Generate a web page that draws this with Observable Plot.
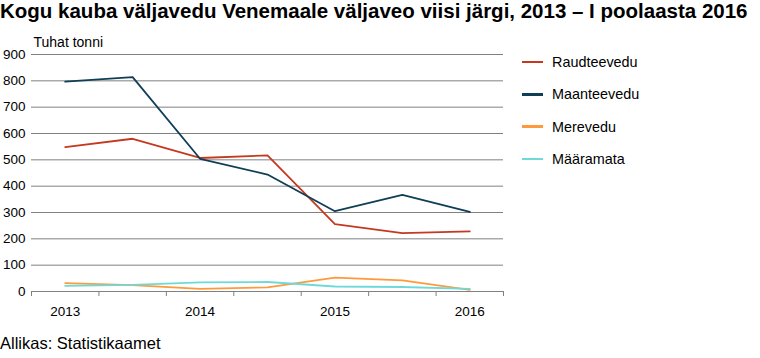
<!DOCTYPE html>
<html>
<head>
<meta charset="utf-8">
<script src="https://cdn.jsdelivr.net/npm/d3@7"></script>
<script src="https://cdn.jsdelivr.net/npm/@observablehq/plot@0.6"></script>
<style>
  body { margin: 0; background: #fff; font-family: "Liberation Sans", Arial, sans-serif; color: #000; }
  #title { font-weight: bold; font-size: 20.5px; line-height: 22px; height: 30px; white-space: nowrap; }
  #row { display: flex; }
  #legend { padding-top: 16px; }
  .item { height: 32.3px; display: flex; align-items: center; font-size: 14.4px; }
  .swatch { display: inline-block; width: 21px; height: 2.5px; margin-left: 12px; margin-right: 9px; }
  #caption { font-size: 16.5px; line-height: 18px; margin-top: 14px; }
</style>
</head>
<body>
<div id="title">Kogu kauba väljavedu Venemaale väljaveo viisi järgi, 2013 – I poolaasta 2016</div>
<div id="row"><div id="chart"></div><div id="legend"></div></div>
<div id="caption">Allikas: Statistikaamet</div>
<script>
const periods = ["2013 I", "2013 II", "2014 I", "2014 II", "2015 I", "2015 II", "2016 I"];
const yearLabels = ["2013", "", "2014", "", "2015", "", "2016"];
const seriesNames = ["Raudteevedu", "Maanteevedu", "Merevedu", "Määramata"];
const seriesColors = ["#c4391f", "#0f3f56", "#ff9a3c", "#6fd9d9"];
const raudteevedu = [548, 580, 507, 517, 256, 222, 228];
const maanteevedu = [797, 814, 504, 444, 305, 367, 302];
const merevedu = [32, 24, 10, 16, 53, 42, 6];
const maaramata = [21, 25, 35, 36, 19, 17, 10];
const yTicks = [0, 100, 200, 300, 400, 500, 600, 700, 800, 900];
const yLabel = "Tuhat tonni";

const valuesBySeries = [raudteevedu, maanteevedu, merevedu, maaramata];
const rows = [];
seriesNames.forEach((s, k) => {
  periods.forEach((p, i) => rows.push({ series: s, idx: i, value: valuesBySeries[k][i] }));
});
const bounds = d3.range(periods.length + 1).map(i => i - 0.5);
const labelIdx = periods.map((p, i) => i).filter(i => yearLabels[i] !== "");

const chart = Plot.plot({
  width: 510,
  height: 290,
  marginLeft: 31,
  marginRight: 7,
  marginTop: 24,
  marginBottom: 29,
  x: { domain: [-0.5, periods.length - 0.5] },
  y: { domain: [0, 900] },
  color: { domain: seriesNames, range: seriesColors },
  style: { fontFamily: "'Liberation Sans', Arial, sans-serif", fontSize: "13px", color: "#000", background: "transparent", overflow: "visible" },
  marks: [
    Plot.ruleY(yTicks, { stroke: "#808080", strokeWidth: 1 }),
    Plot.axisY(yTicks, { tickSize: 0, tickPadding: 6, fontSize: 13.5, label: null }),
    Plot.axisX(bounds, { tickSize: 5, stroke: "#808080", tickFormat: () => "", label: null }),
    Plot.axisX(labelIdx, { tickSize: 0, tickPadding: 15, fontSize: 13.5, tickFormat: i => yearLabels[i], label: null }),
    Plot.line(rows, { x: "idx", y: "value", z: "series", stroke: "series", strokeWidth: 1.8 }),
    Plot.text([yLabel], { frameAnchor: "top-left", textAnchor: "start", lineAnchor: "middle", dx: 2, dy: -12, fontSize: 14 })
  ]
});
document.getElementById("chart").append(chart);

const legend = document.getElementById("legend");
seriesNames.forEach((s, k) => {
  const item = document.createElement("div");
  item.className = "item";
  const sw = document.createElement("span");
  sw.className = "swatch";
  sw.style.background = seriesColors[k];
  item.append(sw, document.createTextNode(s));
  legend.append(item);
});
</script>
</body>
</html>
